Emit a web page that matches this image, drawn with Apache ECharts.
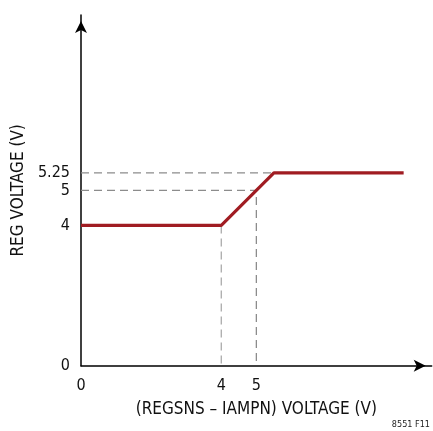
<!DOCTYPE html>
<html>
<head>
<meta charset="utf-8">
<script src="https://cdn.jsdelivr.net/npm/echarts@6/dist/echarts.min.js"></script>
<style>
  html, body { margin: 0; padding: 0; background: #fff; }
  #chart { width: 433px; height: 431px; }
</style>
</head>
<body>
<div id="chart"></div>
<script>
// schematic transfer curve (positions as drawn)
var curveX = [0, 4, 5.5, 9.2];
var curveY = [4, 4, 5.5, 5.5];

// tick positions and the text printed at them
var xTickVals = [0, 4, 5];
var xTickText = ['0', '4', '5'];
var yTickVals = [0, 4, 5, 5.5];
var yTickText = ['0', '4', '5', '5.25'];

// dashed guide lines: [x0,y0],[x1,y1]...
var guideA = [[4, 4], [4, 0]];
var guideB = [[0, 5], [5, 5], [5, 0]];
var guideC = [[0, 5.5], [5.5, 5.5]];

var FONT = '"Liberation Sans Narrow", "DejaVu Sans Condensed", sans-serif';

function labelFor(vals, texts) {
  return function (v) {
    for (var i = 0; i < vals.length; i++) {
      if (Math.abs(vals[i] - v) < 1e-6) return texts[i];
    }
    return '';
  };
}

var chart = echarts.init(document.getElementById('chart'));

function guide(data, col) {
  return {
    type: 'line',
    data: data,
    symbol: 'none',
    silent: true,
    z: 1,
    lineStyle: { color: col, width: 1.3, type: [8, 5] }
  };
}

var option = {
  animation: false,
  grid: { left: 81, right: 1.3, top: 15, bottom: 65.3 },
  xAxis: {
    type: 'value',
    min: 0, max: 10,
    name: '(REGSNS \u2013 IAMPN) VOLTAGE (V)',
    nameLocation: 'middle',
    nameGap: 35,
    nameTextStyle: { fontFamily: FONT, fontSize: 17, color: '#111' },
    splitLine: { show: false },
    axisTick: { show: false },
    axisLine: {
      lineStyle: { color: '#000', width: 1.5 },
      symbol: ['none', 'arrow'],
      symbolSize: [9, 12],
      symbolOffset: [0, -6]
    },
    axisLabel: {
      customValues: xTickVals,
      formatter: labelFor(xTickVals, xTickText),
      margin: 12,
      fontFamily: FONT, fontSize: 16, color: '#111'
    }
  },
  yAxis: {
    type: 'value',
    min: 0, max: 10,
    name: 'REG VOLTAGE (V)',
    nameLocation: 'middle',
    nameGap: 54,
    nameTextStyle: { fontFamily: FONT, fontSize: 17, color: '#111' },
    splitLine: { show: false },
    axisTick: { show: false },
    axisLine: {
      lineStyle: { color: '#000', width: 1.5 },
      symbol: ['none', 'arrow'],
      symbolSize: [9, 12],
      symbolOffset: [0, -6]
    },
    axisLabel: {
      customValues: yTickVals,
      formatter: labelFor(yTickVals, yTickText),
      margin: 11,
      fontFamily: FONT, fontSize: 16, color: '#111'
    }
  },
  series: [
    guide(guideA, '#aaaaaa'),
    guide(guideB, '#8c8c8c'),
    guide(guideC, '#8c8c8c'),
    {
      type: 'line',
      data: curveX.map(function (x, i) { return [x, curveY[i]]; }),
      symbol: 'none',
      z: 3,
      lineStyle: { color: '#a01c22', width: 3.2 }
    }
  ],
  graphic: [{
    type: 'text',
    right: 3,
    bottom: 2,
    style: { text: '8551 F11', fontFamily: FONT, fontSize: 9, fill: '#222' }
  }]
};

chart.setOption(option);
</script>
</body>
</html>
